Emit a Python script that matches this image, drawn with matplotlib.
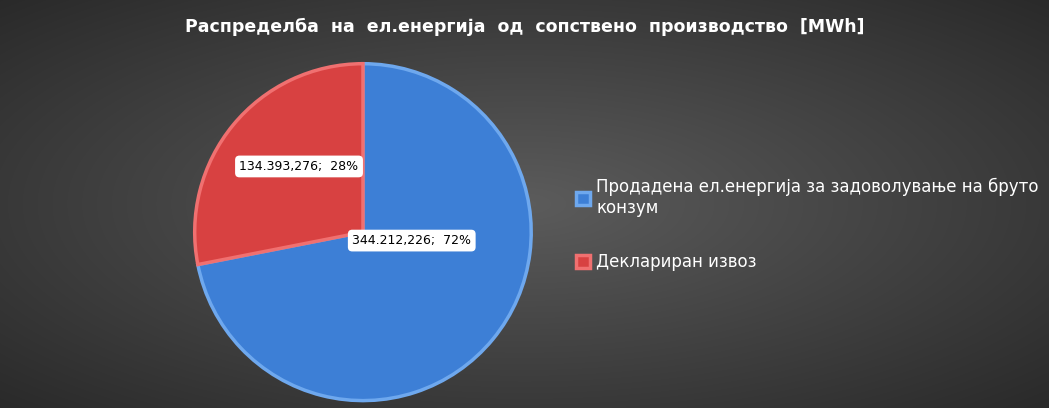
import matplotlib
matplotlib.use("Agg")
import matplotlib.pyplot as plt
import numpy as np

labels = ["Продадена ел.енергија за задоволување на бруто\nконзум", "Деклариран извоз"]
values = [344.212226, 134.393276]
value_texts = ["344.212,226;  72%", "134.393,276;  28%"]
colors = ["#3d7fd6", "#d84141"]
title = "Распределба  на  ел.енергија  од  сопствено  производство  [MWh]"

fig = plt.figure(figsize=(10.49, 4.08), dpi=100)
bg = fig.add_axes([0, 0, 1, 1])
yy, xx = np.mgrid[-1:1:408j, -1:1:1049j]
r = np.sqrt((xx * 0.9) ** 2 + (yy * 0.9) ** 2)
g = 0.36 - 0.2 * np.clip(r, 0, 1.3) / 1.3
bg.imshow(np.dstack([g, g, g]), aspect="auto", extent=[0, 1, 0, 1])
bg.axis("off")

fig.text(0.5, 0.935, title, ha="center", va="center", color="white",
         fontsize=12.5, fontweight="bold", family="DejaVu Sans")

ax = fig.add_axes([0.346 - 0.162, 0.431 - 0.417, 0.324, 0.834])
wedges, _ = ax.pie(values, colors=colors, startangle=90, counterclock=False,
                   wedgeprops=dict(linewidth=0))
for w, c in zip(wedges, ["#6ea8ee", "#f07070"]):
    w.set_edgecolor(c)
    w.set_linewidth(2.5)
ax.set_aspect("auto")
ax.set_xlim(-1.01, 1.01)
ax.set_ylim(-1.01, 1.01)

box = dict(boxstyle="round,pad=0.35", fc="white", ec="none")
ax.text(0.29, -0.05, value_texts[0], ha="center", va="center", fontsize=9, bbox=box)
ax.text(-0.38, 0.39, value_texts[1], ha="center", va="center", fontsize=9, bbox=box)

leg = fig.legend(wedges, labels, loc="center left", bbox_to_anchor=(0.535, 0.45),
                 frameon=False, fontsize=12, labelcolor="white", handlelength=0.8,
                 handleheight=0.8, labelspacing=2.2, handletextpad=0.4)
fig.savefig("out.png", dpi=100)
